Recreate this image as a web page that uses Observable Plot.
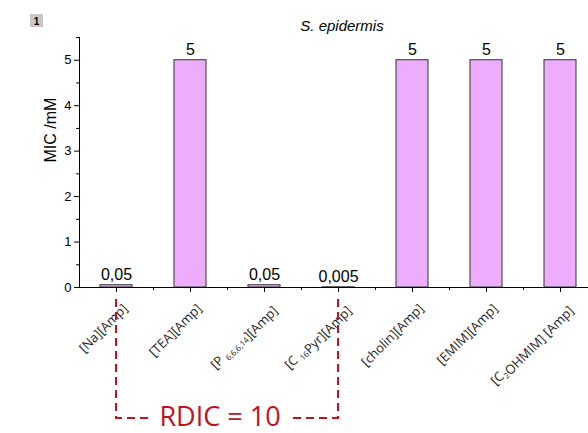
<!DOCTYPE html>
<html>
<head>
<meta charset="utf-8">
<script src="https://cdn.jsdelivr.net/npm/d3@7"></script>
<script src="https://cdn.jsdelivr.net/npm/@observablehq/plot@0.6"></script>
<style>
  html, body { margin: 0; padding: 0; background: #fff; }
  #chart { width: 588px; height: 433px; overflow: hidden; }
</style>
</head>
<body>
<div id="chart"></div>
<script>
const categories = ["[Na][Amp]", "[TEA][Amp]", "[P _{6,6,6,14}][Amp]", "[C _{16}Pyr][Amp]", "[cholin][Amp]", "[EMIM][Amp]", "[C_{2}OHMIM] [Amp]"];
const micValues = [0.05, 5, 0.05, 0.005, 5, 5, 5];
const micLabels = ["0,05", "5", "0,05", "0,005", "5", "5", "5"];
const yTicks = [0, 1, 2, 3, 4, 5];
const yMinorTicks = [0.5, 1.5, 2.5, 3.5, 4.5, 5.5];
const title = "S. epidermis";
const yLabel = "MIC /mM";
const panelTag = "1";
const rdicText = "RDIC = 10";
const bracketFrom = categories[0];
const bracketTo = categories[3];

const data = categories.map((c, i) => ({cat: c, v: micValues[i], label: micLabels[i]}));

const xRange = [79, 597];
const step = (xRange[1] - xRange[0]) / categories.length;

const plot = Plot.plot({
  width: 588,
  height: 433,
  marginLeft: 79,
  marginTop: 37,
  marginBottom: 146,
  marginRight: 0,
  x: {domain: categories, range: xRange, padding: 0, axis: null},
  y: {domain: [0, 5.5], axis: null},
  style: {fontFamily: "'Liberation Sans', Arial, sans-serif", fontSize: "13px", color: "#000", background: "#fff"},
  marks: [
    Plot.barY(data, {x: "cat", y: "v", fill: "#ecaefc", stroke: "#333", strokeWidth: 1, insetLeft: 21, insetRight: 21}),
    Plot.ruleY([0], {stroke: "#000", strokeWidth: 1}),
    Plot.ruleX([categories[0]], {y1: 0, y2: 5.5, dx: -step / 2, stroke: "#000", strokeWidth: 1}),
    Plot.axisX({tickSize: 5, tickFormat: () => "", label: null, stroke: "#000"}),
    Plot.axisX({tickSize: 3, tickFormat: () => "", label: null, dx: step / 2, stroke: "#000"}),
    Plot.axisY(yTicks, {tickSize: 5, tickPadding: 3, label: null, fontSize: 13, stroke: "#000"}),
    Plot.axisY(yMinorTicks, {tickSize: 3, tickFormat: () => "", label: null, stroke: "#000"}),
    Plot.text(data, {x: "cat", y: "v", text: "label", dy: -10, fontSize: 16}),
    Plot.text(categories, {x: d => d, y: () => 0, text: d => d, rotate: -45, textAnchor: "end", dx: 9, dy: 19, fontSize: 13, fontFamily: "'Open Sans', sans-serif", fill: "#1e1e2a"}),
    Plot.text([title], {frameAnchor: "top", dx: 8, dy: -17, fontSize: 15, fontStyle: "italic"}),
    Plot.text([yLabel], {frameAnchor: "left", rotate: -90, dx: -29, fontSize: 16})
  ]
});

document.getElementById("chart").appendChild(plot);
const svg = d3.select(plot);

// subscripts in category labels
svg.selectAll("text").each(function() {
  const t = this.textContent;
  if (!t.includes("_{") || this.children.length) return;
  const el = d3.select(this);
  el.text(null);
  const re = /_\{([^}]*)\}/g;
  let last = 0, m;
  while ((m = re.exec(t))) {
    el.append("tspan").text(t.slice(last, m.index));
    el.append("tspan").attr("font-size", 8).attr("dy", 3).text(m[1]);
    last = re.lastIndex;
    el.append("tspan").attr("dy", -3).text("");
  }
  el.append("tspan").text(t.slice(last));
});

// panel tag
const tag = svg.append("g");
tag.append("rect").attr("x", 30).attr("y", 14).attr("width", 13).attr("height", 13).attr("fill", "#c8c8c8");
tag.append("text").attr("x", 36.5).attr("y", 24.5).attr("text-anchor", "middle").attr("font-size", 10).attr("font-weight", "bold").text(panelTag);

// RDIC bracket
const xs = plot.scale("x"), ys = plot.scale("y");
const xa = xs.apply(bracketFrom) + xs.bandwidth / 2;
const xb = xs.apply(bracketTo) + xs.bandwidth / 2;
const y0 = ys.apply(0);
const yTop = y0 + 12, yBot = y0 + 131;
const red = "#c1121f";
const br = svg.append("g").attr("fill", "none").attr("stroke", red).attr("stroke-width", 2).attr("stroke-dasharray", "8,5");
const label = svg.append("text").attr("x", (xa + xb) / 2 - 7).attr("y", y0 + 139)
  .attr("text-anchor", "middle").attr("font-family", "'Open Sans', sans-serif").attr("font-size", 27).attr("fill", red).text(rdicText);
const bb = label.node().getBBox();
br.append("path").attr("d", `M${xa},${yTop}V${yBot}H${bb.x - 8}`);
br.append("path").attr("d", `M${xb},${yTop}V${yBot}H${bb.x + bb.width + 8}`);
</script>
</body>
</html>
